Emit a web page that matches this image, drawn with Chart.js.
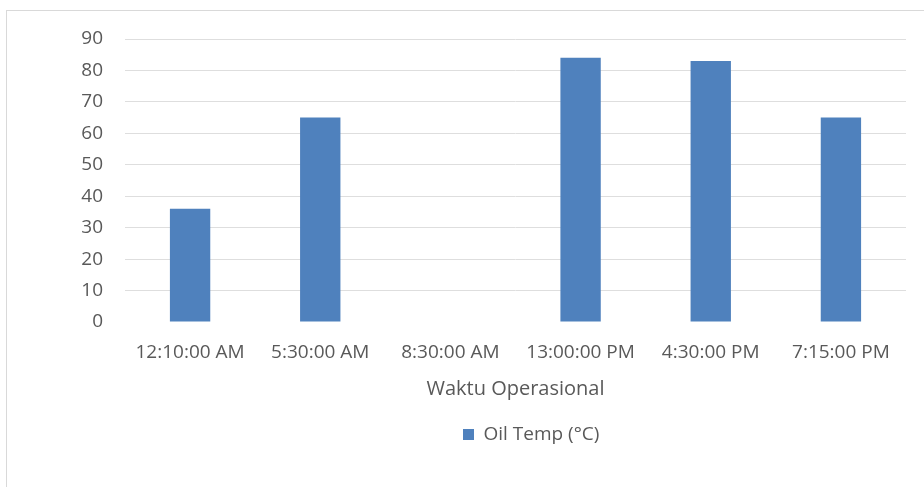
<!DOCTYPE html>
<html>
<head>
<meta charset="utf-8">
<script src="https://cdn.jsdelivr.net/npm/chart.js@4"></script>
<style>
  html, body { margin: 0; padding: 0; background: #ffffff; }
  #wrap { position: relative; width: 924px; height: 487px; }
</style>
</head>
<body>
<div id="wrap"><canvas id="c" width="924" height="487"></canvas></div>
<script>
// Operating times and the oil temperature read at each one
const categories = ['12:10:00 AM', '5:30:00 AM', '8:30:00 AM', '13:00:00 PM', '4:30:00 PM', '7:15:00 PM'];
const oilTemp = [36, 65, null, 84, 83, 65];
const seriesName = 'Oil Temp (°C)';
const axisTitle = 'Waktu Operasional';
const yMin = 0, yMax = 90, yStep = 10;

const FONT = '"Open Sans", "Liberation Sans", sans-serif';
const TEXT = '#595959';
const GRID = '#dedede';
const FRAME = '#d9d9d9';
const BAR = '#4f81bd';

// Thin frame around the chart object
const framePlugin = {
  id: 'frame',
  beforeDraw(chart) {
    const ctx = chart.ctx;
    ctx.save();
    ctx.strokeStyle = FRAME;
    ctx.lineWidth = 1;
    ctx.strokeRect(6.5, 10.5, 940, 500);
    ctx.restore();
  }
};

// Nudge the legend so its swatch starts at the middle of the canvas
const legendShift = {
  id: 'legendShift',
  afterLayout(chart) {
    const lg = chart.legend;
    if (!lg || !lg.lineWidths) return;
    const d = lg.lineWidths[0] / 2 - 2;
    lg.left += d;
    lg.right += d;
  }
};

new Chart(document.getElementById('c'), {
  type: 'bar',
  data: {
    labels: categories,
    datasets: [{
      label: seriesName,
      data: oilTemp,
      backgroundColor: BAR,
      borderWidth: 0,
      categoryPercentage: 1,
      barPercentage: 0.31
    }]
  },
  options: {
    responsive: false,
    animation: false,
    devicePixelRatio: 1,
    layout: { padding: { top: 39, right: 18, bottom: 33, left: 0 } },
    plugins: {
      tooltip: { enabled: false },
      legend: {
        position: 'bottom',
        labels: {
          boxWidth: 11,
          boxHeight: 11,
          padding: 24,
          color: TEXT,
          font: { family: FONT, size: 19 }
        }
      }
    },
    scales: {
      x: {
        grid: { display: false, drawTicks: false },
        border: { display: false },
        ticks: {
          color: TEXT,
          padding: 19,
          maxRotation: 0,
          autoSkip: false,
          font: { family: FONT, size: 19 }
        },
        title: {
          display: true,
          text: axisTitle,
          color: TEXT,
          padding: { top: 0, bottom: 0 },
          font: { family: FONT, size: 20 }
        },
        afterFit(scale) { scale.height = 79; }
      },
      y: {
        min: yMin,
        max: yMax,
        grid: {
          // no rule at the baseline, only the 10..90 gridlines
          color: (ctx) => (ctx.tick && ctx.tick.value === yMin ? 'rgba(0,0,0,0)' : GRID),
          lineWidth: 1,
          drawTicks: false
        },
        border: { display: false },
        ticks: {
          stepSize: yStep,
          color: TEXT,
          padding: 22,
          font: { family: FONT, size: 19 }
        },
        afterFit(scale) { scale.width = 125; }
      }
    }
  },
  plugins: [framePlugin, legendShift]
});
</script>
</body>
</html>
